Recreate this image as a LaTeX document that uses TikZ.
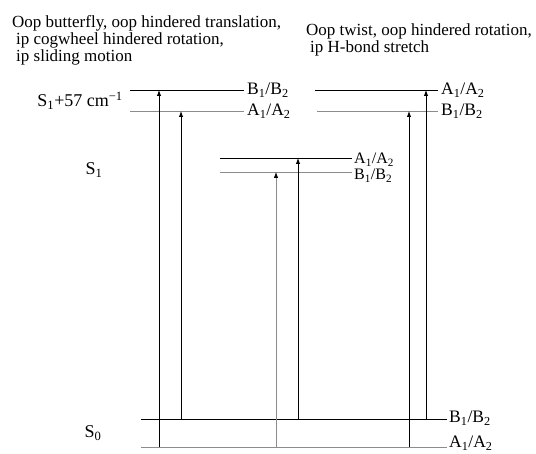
\documentclass[tikz,border=0pt]{standalone}
\usepackage{fontspec}
\setmainfont{Liberation Serif}
\usetikzlibrary{arrows.meta}
\begin{document}
\begin{tikzpicture}[x=1pt,y=-1pt,
  lvlb/.style={line width=0.9pt,black},
  lvlg/.style={line width=0.8pt,black!45},
  arrb/.style={line width=0.9pt,black,-{Latex[length=6pt,width=4.5pt]}},
  arrg/.style={line width=0.8pt,black!45,-{Latex[length=6pt,width=4.5pt,color=black]}},
  lab/.style={anchor=base west,inner sep=0pt,font=\fontsize{17.5}{18}\selectfont},
  mlab/.style={anchor=base west,inner sep=0pt,font=\fontsize{16}{16}\selectfont},
  slab/.style={anchor=base,inner sep=0pt,font=\fontsize{18}{18}\selectfont},
  txt/.style={anchor=base west,inner sep=0pt,font=\fontsize{17}{17}\selectfont}]
\useasboundingbox (0,0) rectangle (536,454);
% top texts
\node[txt] (tl1) at (12,28) {Oop butterfly, oop hindered translation,};
\node[txt] (tl2) at (16,45) {ip cogwheel hindered rotation,};
\node[txt] (tl3) at (16,62) {ip sliding motion};
\node[txt] (tr1) at (306,36) {Oop twist, oop hindered rotation,};
\node[txt] (tr2) at (310,53) {ip H-bond stretch};
% state labels
\node[slab,anchor=base east] (s157) at (123,107) {S\textsubscript{1}+57 cm\textsuperscript{−1}};
\node[slab] (s1) at (94,175) {S\textsubscript{1}};
\node[slab] (s0) at (93,438) {S\textsubscript{0}};
% levels: coordinates
\coordinate (LBa) at (130,90);  \coordinate (LBb) at (244,90);
\coordinate (LAa) at (130,111); \coordinate (LAb) at (244,111);
\coordinate (RAa) at (315,90);  \coordinate (RAb) at (438,90);
\coordinate (RBa) at (317,111); \coordinate (RBb) at (438,111);
\coordinate (MAa) at (220,158); \coordinate (MAb) at (352,158);
\coordinate (MBa) at (220,172); \coordinate (MBb) at (352,172);
\coordinate (GBa) at (141,419); \coordinate (GBb) at (447,419);
\coordinate (GAa) at (141,447); \coordinate (GAb) at (447,447);
\draw[lvlb] (LBa) -- (LBb); \draw[lvlg] (LAa) -- (LAb);
\draw[lvlb] (RAa) -- (RAb); \draw[lvlg] (RBa) -- (RBb);
\draw[lvlb] (MAa) -- (MAb); \draw[lvlg] (MBa) -- (MBb);
\draw[lvlb] (GBa) -- (GBb); \draw[lvlg] (GAa) -- (GAb);
% level labels
\node[lab] (lbl1) at ([xshift=3pt,yshift=-5pt]LBb) {B\textsubscript{1}/B\textsubscript{2}};
\node[lab] (lbl2) at ([xshift=3pt,yshift=-5pt]LAb) {A\textsubscript{1}/A\textsubscript{2}};
\node[lab] (lbl3) at ([xshift=3pt,yshift=-5pt]RAb) {A\textsubscript{1}/A\textsubscript{2}};
\node[lab] (lbl4) at ([xshift=3pt,yshift=-5pt]RBb) {B\textsubscript{1}/B\textsubscript{2}};
\node[mlab] (lbl5) at ([xshift=2pt,yshift=-6pt]MAb) {A\textsubscript{1}/A\textsubscript{2}};
\node[mlab] (lbl6) at ([xshift=2pt,yshift=-8pt]MBb) {B\textsubscript{1}/B\textsubscript{2}};
\node[lab] (lbl7) at ([xshift=2pt,yshift=-4pt]GBb) {B\textsubscript{1}/B\textsubscript{2}};
\node[lab] (lbl8) at ([xshift=2pt,yshift=-1pt]GAb) {A\textsubscript{1}/A\textsubscript{2}};
% transitions
\coordinate (t1s) at (159,447); \coordinate (t1e) at (159,90);
\coordinate (t2s) at (181,419); \coordinate (t2e) at (181,111);
\coordinate (t3s) at (276,447); \coordinate (t3e) at (276,172);
\coordinate (t4s) at (298,419); \coordinate (t4e) at (298,158);
\coordinate (t5s) at (409,447); \coordinate (t5e) at (409,111);
\coordinate (t6s) at (426,419); \coordinate (t6e) at (426,90);
\draw[arrb] (t1s) -- (t1e);
\draw[arrb] (t2s) -- (t2e);
\draw[arrg] (t3s) -- (t3e);
\draw[arrb] (t4s) -- (t4e);
\draw[arrb] (t5s) -- (t5e);
\draw[arrb] (t6s) -- (t6e);
\end{tikzpicture}
\end{document}
